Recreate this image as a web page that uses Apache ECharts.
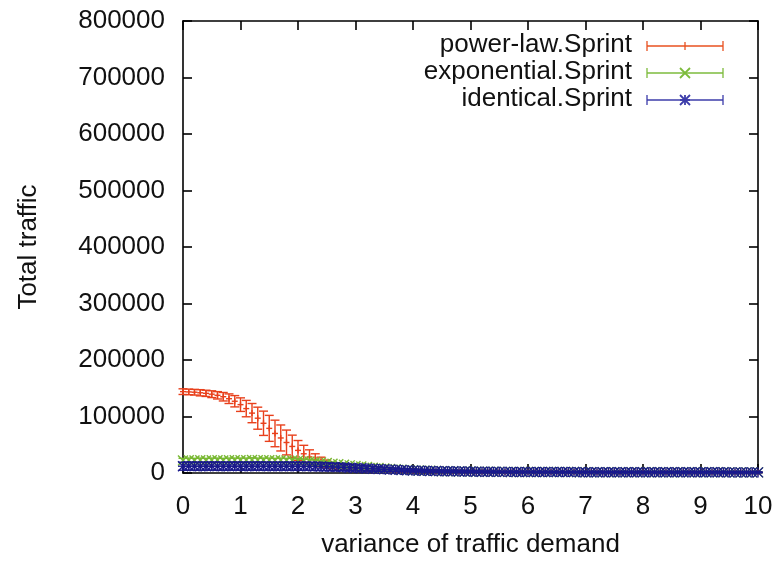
<!DOCTYPE html>
<html>
<head>
<meta charset="utf-8">
<script src="https://cdn.jsdelivr.net/npm/echarts@6/dist/echarts.min.js"></script>
<style>html,body{margin:0;padding:0;background:#fff}#c{width:778px;height:563px}</style>
</head>
<body>
<div id="c"></div>
<script>
const xValues = [0,0.1,0.2,0.3,0.4,0.5,0.6,0.7,0.8,0.9,
1,1.1,1.2,1.3,1.4,1.5,1.6,1.7,1.8,1.9,
2,2.1,2.2,2.3,2.4,2.5,2.6,2.7,2.8,2.9,
3,3.1,3.2,3.3,3.4,3.5,3.6,3.7,3.8,3.9,
4,4.1,4.2,4.3,4.4,4.5,4.6,4.7,4.8,4.9,
5,5.1,5.2,5.3,5.4,5.5,5.6,5.7,5.8,5.9,
6,6.1,6.2,6.3,6.4,6.5,6.6,6.7,6.8,6.9,
7,7.1,7.2,7.3,7.4,7.5,7.6,7.7,7.8,7.9,
8,8.1,8.2,8.3,8.4,8.5,8.6,8.7,8.8,8.9,
9,9.1,9.2,9.3,9.4,9.5,9.6,9.7,9.8,9.9,
10];

const powerLaw = [144000,143500,143000,142000,141000,139500,137500,135000,131500,127000,
121000,114000,106000,97000,88000,79000,70000,62000,54000,47000,
40000,34000,28500,23500,19500,16000,13000,10500,8800,7500,
6500,5700,5100,4600,4200,3900,3600,3400,3200,3000,
2900,2800,2700,2600,2500,2400,2400,2300,2300,2200,
2200,2100,2100,2000,2000,2000,1900,1900,1900,1800,
1800,1800,1800,1700,1700,1700,1700,1600,1600,1600,
1600,1600,1500,1500,1500,1500,1500,1500,1400,1400,
1400,1400,1400,1400,1400,1300,1300,1300,1300,1300,
1300,1300,1300,1200,1200,1200,1200,1200,1200,1200,
1200];
const powerLawErr = [5000,5000,5000,5500,5500,6000,6500,7500,8500,10000,
12000,14500,17000,19500,21500,23000,23500,23000,22000,20000,
17500,15000,12500,10500,8500,7000,5500,4500,3500,2900,
2400,2100,1900,1800,1700,1600,1500,1400,1400,1300,
1300,1200,1200,1200,1100,1100,1100,1000,1000,1000,
1000,1000,1000,1000,1000,950,950,950,950,950,
900,900,900,900,900,900,900,900,900,900,
850,850,850,850,850,850,850,850,850,850,
800,800,800,800,800,800,800,800,800,800,
800,800,800,800,800,800,800,800,800,800,
800];

const exponential = [22000,22500,22000,22500,22000,22500,22500,22000,22500,22500,
22500,22500,23000,22500,22500,22500,22000,22500,22000,22000,
21500,21000,20500,19500,18500,17500,16500,15500,14500,13500,
12500,11500,10500,9500,8700,7900,7200,6500,5900,5400,
4900,4500,4100,3800,3500,3300,3100,2900,2700,2600,
2500,2400,2300,2200,2100,2000,2000,1900,1900,1800,
1800,1800,1700,1700,1700,1600,1600,1600,1600,1500,
1500,1500,1500,1500,1400,1400,1400,1400,1400,1400,
1300,1300,1300,1300,1300,1300,1300,1200,1200,1200,
1200,1200,1200,1200,1200,1100,1100,1100,1100,1100,
1100];
const exponentialErr = [4000,4000,4000,4000,4000,4000,4000,4000,4000,4000,
4000,4000,4000,4000,4000,4000,4000,4000,4000,4000,
4000,3900,3800,3600,3400,3200,3000,2800,2600,2500,
2300,2200,2000,1900,1800,1600,1500,1400,1300,1200,
1100,1000,1000,900,900,900,800,800,800,800,
800,800,750,750,750,750,750,700,700,700,
700,700,700,700,700,700,700,700,700,700,
700,700,700,700,700,700,700,700,700,700,
700,700,700,700,700,700,700,700,700,700,
700,700,700,700,700,700,700,700,700,700,
700];

const identical = [12000,12200,12000,12100,12000,12200,12000,12100,12000,12200,
12000,12100,12000,12200,12000,12100,12000,12000,12100,12000,
12000,11900,11800,11600,11400,11100,10800,10400,10000,9500,
9000,8500,8000,7500,7000,6500,6000,5600,5200,4800,
4500,4200,3900,3600,3400,3200,3000,2900,2700,2600,
2500,2400,2300,2200,2100,2000,2000,1900,1900,1800,
1800,1800,1700,1700,1700,1600,1600,1600,1600,1500,
1500,1500,1500,1500,1400,1400,1400,1400,1400,1400,
1300,1300,1300,1300,1300,1300,1300,1200,1200,1200,
1200,1200,1200,1200,1200,1100,1100,1100,1100,1100,
1100];
const identicalErr = [7000,7000,7000,7000,7000,7000,7000,7000,7000,7000,
7000,7000,7000,7000,7000,7000,7000,7000,7000,7000,
7000,7000,7000,7000,7000,6800,6500,6200,5900,5500,
5200,4900,4600,4300,4000,3700,3400,3100,2900,2700,
2500,2300,2200,2000,1900,1800,1700,1600,1500,1500,
1400,1400,1300,1300,1300,1200,1200,1200,1200,1100,
1100,1100,1100,1100,1100,1000,1000,1000,1000,1000,
1000,1000,1000,1000,1000,1000,1000,1000,1000,1000,
1000,1000,1000,1000,1000,1000,1000,1000,1000,1000,
1000,1000,1000,1000,1000,1000,1000,1000,1000,1000,
1000];

const seriesNames = ['power-law.Sprint','exponential.Sprint','identical.Sprint'];
const xTicks = [0,1,2,3,4,5,6,7,8,9,10];
const yTicks = [0,100000,200000,300000,400000,500000,600000,700000,800000];

const COLORS = ['#e8401c','#78b832','#1a1a8c'];
const LEGEND_COLORS = ['#e8501f','#7dbb3c','#3c3caa'];
const FONT = 'Liberation Sans';
const LW = 1.4;

function markerShapes(kind, cx, cy, s, style) {
  const L = (x1,y1,x2,y2) => ({type:'line', shape:{x1,y1,x2,y2}, style});
  const out = [];
  if (kind === 'plus' || kind === 'star') {
    out.push(L(cx - s, cy, cx + s, cy));
    out.push(L(cx, cy - s, cx, cy + s));
  }
  if (kind === 'cross' || kind === 'star') {
    out.push(L(cx - s, cy - s, cx + s, cy + s));
    out.push(L(cx - s, cy + s, cx + s, cy - s));
  }
  return out;
}

function makeRender(kind, color) {
  return function (params, api) {
    const x = api.value(0), y = api.value(1), e = api.value(2);
    const c = api.coord([x, y]);
    const lo = api.coord([x, y - e]);
    const hi = api.coord([x, y + e]);
    const cw = 4.5;
    const style = {stroke: color, lineWidth: LW, fill: null};
    const children = [
      {type:'line', shape:{x1:c[0], y1:lo[1], x2:c[0], y2:hi[1]}, style},
      {type:'line', shape:{x1:c[0]-cw, y1:lo[1], x2:c[0]+cw, y2:lo[1]}, style},
      {type:'line', shape:{x1:c[0]-cw, y1:hi[1], x2:c[0]+cw, y2:hi[1]}, style}
    ].concat(markerShapes(kind, c[0], c[1], kind === 'plus' ? 3 : 5, style));
    return {type:'group', children};
  };
}

function build(vals, errs) {
  return xValues.map((x, i) => [x, vals[i], errs[i]]);
}

const kinds = ['plus','cross','star'];
const datasets = [build(powerLaw, powerLawErr), build(exponential, exponentialErr), build(identical, identicalErr)];

// legend graphic
const legendG = [];
const legendY = [46, 73, 100];
seriesNames.forEach((n, i) => {
  const y = legendY[i];
  const st = {stroke: LEGEND_COLORS[i], lineWidth: 1.3, fill: null};
  legendG.push({type:'text', right: 778 - 632, top: y - 14, style:{text: n, font: '26px "' + FONT + '"', fill:'#111', textAlign:'right'}});
  legendG.push({type:'line', shape:{x1:647, y1:y, x2:723, y2:y}, style: st});
  legendG.push({type:'line', shape:{x1:647, y1:y-5, x2:647, y2:y+5}, style: st});
  legendG.push({type:'line', shape:{x1:723, y1:y-5, x2:723, y2:y+5}, style: st});
  if (i === 0) {
    legendG.push({type:'line', shape:{x1:685, y1:y-4, x2:685, y2:y+4}, style: st});
  } else {
    markerShapes(kinds[i], 685, y, 5, Object.assign({}, st, {lineWidth: 1.8})).forEach(s => legendG.push(s));
  }
});

function axisBase() {
  return {
    type: 'value',
    axisLine: {show: true, onZero: false, lineStyle: {color: '#000', width: 1.6}},
    axisTick: {show: true, inside: true, length: 9, lineStyle: {color: '#000', width: 1.6}},
    splitLine: {show: false}
  };
}

const chart = echarts.init(document.getElementById('c'), null, {renderer: 'canvas'});
chart.setOption({
  animation: false,
  backgroundColor: '#fff',
  grid: {left: 183, right: 20, top: 21, bottom: 86, containLabel: false},
  xAxis: [
    Object.assign(axisBase(), {
      position: 'bottom', min: 0, max: 10, interval: 1,
      axisLabel: {show: true, fontSize: 26, fontFamily: FONT, color: '#111', margin: 21,
        formatter: v => xTicks.includes(v) ? String(v) : ''},
      name: 'variance of traffic demand', nameLocation: 'middle', nameGap: 59,
      nameTextStyle: {fontSize: 26, fontFamily: FONT, color: '#111'}
    }),
    Object.assign(axisBase(), {
      position: 'top', min: 0, max: 10, interval: 1, axisLabel: {show: false}
    })
  ],
  yAxis: [
    Object.assign(axisBase(), {
      position: 'left', min: 0, max: 800000, interval: 100000,
      axisLabel: {show: true, fontSize: 26, fontFamily: FONT, color: '#111', margin: 18,
        formatter: v => yTicks.includes(v) ? String(v) : ''},
      name: 'Total traffic', nameLocation: 'middle', nameGap: 141, nameRotate: 90,
      nameTextStyle: {fontSize: 26, fontFamily: FONT, color: '#111'}
    }),
    Object.assign(axisBase(), {
      position: 'right', min: 0, max: 800000, interval: 100000, axisLabel: {show: false}
    })
  ],
  series: datasets.map((d, i) => ({
    type: 'custom',
    name: seriesNames[i],
    xAxisIndex: 0, yAxisIndex: 0,
    clip: false,
    z: 2 + i,
    renderItem: makeRender(kinds[i], COLORS[i]),
    encode: {x: 0, y: 1},
    data: d
  })),
  graphic: legendG
});
</script>
</body>
</html>
